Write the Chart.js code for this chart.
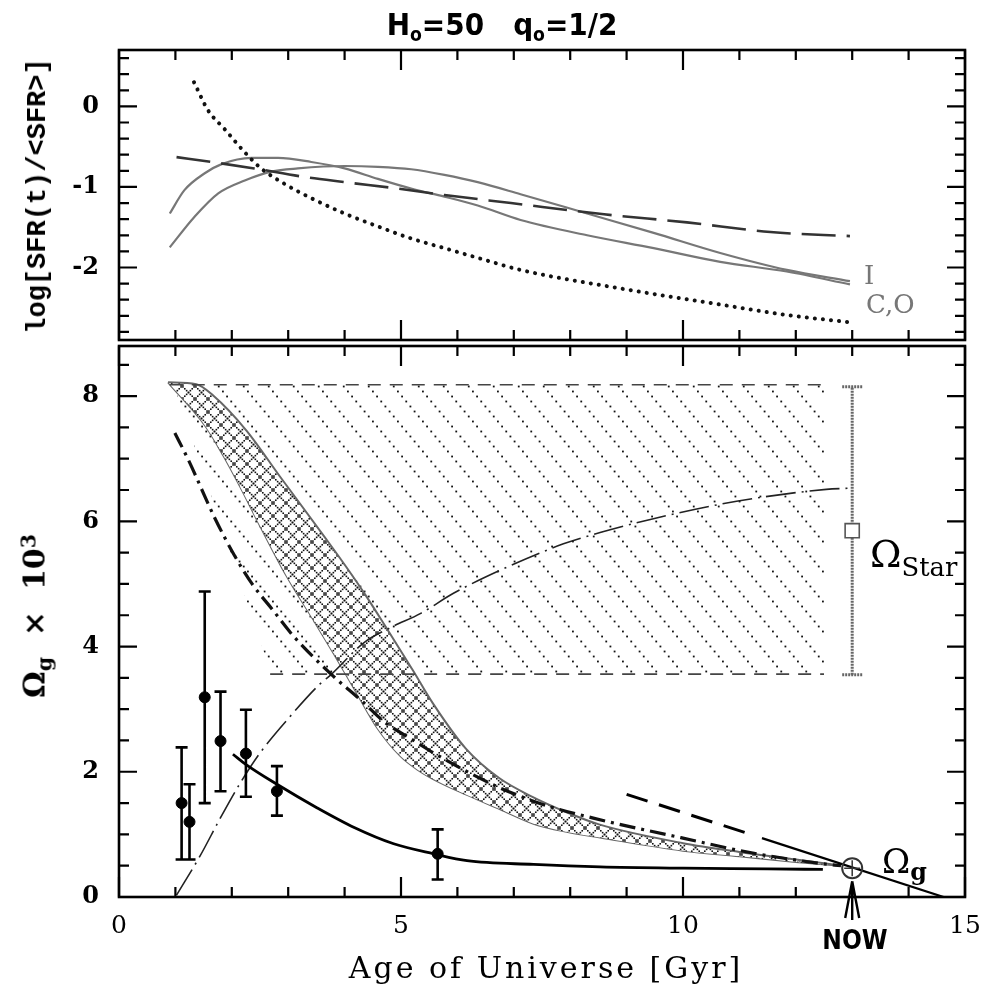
<!DOCTYPE html>
<html>
<head>
<meta charset="utf-8">
<title>Omega_g vs age of the universe</title>
<script src="https://cdn.jsdelivr.net/npm/chart.js@4.4.1/dist/chart.umd.min.js"></script>
<style>
  html, body { margin: 0; padding: 0; background: #fff; }
  #wrap { position: relative; width: 984px; height: 990px; overflow: hidden; }
  canvas { position: absolute; left: 0; }
  #cTop { top: 0; width: 984px; height: 346px; }
  #cBot { top: 334px; width: 984px; height: 656px; }
  .t { position: absolute; white-space: nowrap; line-height: 1; color: #000; }
  .t sub, .t sup { vertical-align: baseline; position: relative; }
  .rot { transform: translate(-50%, -50%) rotate(-90deg); }
  #title { left: 502px; top: 6px; transform: translateX(-50%); font: bold 31px "Liberation Sans Narrow", "DejaVu Sans Condensed", sans-serif; }
  #title sub { font-size: 62%; top: 0.3em; }
  #yTop { left: 38px; top: 196px; font: bold 27px "Liberation Mono", monospace; }
  #yBot { left: 34px; top: 616px; font: bold 30px "DejaVu Serif", serif; }
  #yBot sub { font-size: 68%; top: 0.35em; }
  #yBot sup { font-size: 68%; top: -0.45em; }
  #xTitle { left: 546px; top: 950px; transform: translateX(-50%); font: 30px "DejaVu Serif", serif; letter-spacing: 3px; }
  #lblI { left: 864px; top: 260px; font: 26px "DejaVu Serif", serif; color: #777; }
  #lblCO { left: 866px; top: 289px; font: 26px "DejaVu Serif", serif; color: #777; }
  #lblStar { left: 870px; top: 532px; font: 38px "DejaVu Serif", serif; }
  #lblStar sub { font-size: 68%; top: 0.34em; }
  #lblG { left: 882px; top: 841px; font: 34px "DejaVu Serif", serif; }
  #lblG sub { font-size: 70%; top: 0.3em; font-weight: bold; }
  #lblNow { left: 855px; top: 925px; transform: translateX(-50%); font: bold 26px "Liberation Sans Narrow", "DejaVu Sans Condensed", sans-serif; }
</style>
</head>
<body>
<div id="wrap">
  <canvas id="cTop" width="984" height="346"></canvas>
  <canvas id="cBot" width="984" height="656"></canvas>
  <div class="t" id="title">H<sub>o</sub>=50&nbsp;&nbsp;&nbsp;q<sub>o</sub>=1/2</div>
  <div class="t rot" id="yTop">log[SFR(t)/&lt;SFR&gt;]</div>
  <div class="t rot" id="yBot">Ω<sub>g</sub>&nbsp;&nbsp;×&nbsp;&nbsp;10<sup>3</sup></div>
  <div class="t" id="xTitle">Age of Universe [Gyr]</div>
  <div class="t" id="lblI">I</div>
  <div class="t" id="lblCO">C,O</div>
  <div class="t" id="lblStar">Ω<sub>Star</sub></div>
  <div class="t" id="lblG">Ω<sub>g</sub></div>
  <div class="t" id="lblNow">NOW</div>
</div>
<script>
// tick labels
const xTicks = [0, 5, 10, 15];
const yTopTicks = [-2, -1, 0];
const yBotTicks = [0, 2, 4, 6, 8];

// upper panel: log[SFR(t)/<SFR>] against age (Gyr)
const sfrDotX = [1.33, 1.58, 1.87, 2.23, 2.52, 2.93, 3.41, 4.0, 4.59, 5.18, 5.77, 6.36, 7.12, 8.89, 10.66, 11.84, 12.96];
const sfrDotY = [0.30, -0.05, -0.28, -0.57, -0.77, -0.96, -1.14, -1.33, -1.49, -1.64, -1.76, -1.88, -2.03, -2.26, -2.46, -2.59, -2.68];
const sfrDashX = [1.02, 1.64, 2.40, 3.23, 4.0, 4.94, 5.77, 6.95, 8.60, 10.07, 11.55, 12.96];
const sfrDashY = [-0.63, -0.69, -0.77, -0.87, -0.94, -1.02, -1.10, -1.20, -1.34, -1.44, -1.56, -1.61];
const sfrIX = [0.90, 1.16, 1.52, 1.81, 2.35, 2.82, 3.41, 4.0, 4.59, 5.18, 5.77, 6.36, 7.12, 8.30, 9.48, 10.66, 11.84, 12.96];
const sfrIY = [-1.33, -1.04, -0.83, -0.72, -0.64, -0.64, -0.69, -0.77, -0.90, -1.02, -1.12, -1.23, -1.41, -1.60, -1.76, -1.93, -2.05, -2.21];
const sfrCOX = [0.90, 1.34, 1.76, 2.23, 2.70, 3.17, 4.0, 4.59, 5.18, 5.77, 6.36, 7.12, 8.30, 9.48, 10.66, 11.84, 12.96];
const sfrCOY = [-1.75, -1.37, -1.08, -0.92, -0.81, -0.77, -0.74, -0.75, -0.78, -0.85, -0.94, -1.09, -1.33, -1.57, -1.82, -2.03, -2.17];

// lower panel: Omega x 10^3 against age (Gyr)
// allowed range of Omega_star (hatched)
const hatchX = [0.97, 12.5, 12.5, 2.70, 0.97];
const hatchY = [8.18, 8.18, 3.56, 3.56, 8.18];
const limTopX = [0.9, 12.5];
const limTopY = [8.18, 8.18];
const limBotX = [2.68, 12.5];
const limBotY = [3.56, 3.56];
// model band (cross-hatched)
const bandUpX = [0.87, 1.37, 1.67, 2.26, 2.85, 3.67, 4.03, 4.38, 4.74, 5.21, 5.56, 6.15, 6.74, 7.33, 7.92, 8.51, 10.0, 11.0, 12.0, 12.8];
const bandUpY = [8.22, 8.19, 8.01, 7.45, 6.72, 5.72, 5.27, 4.81, 4.30, 3.62, 3.10, 2.37, 1.90, 1.60, 1.36, 1.16, 0.86, 0.72, 0.60, 0.50];
const bandLoX = [0.87, 1.55, 1.85, 2.15, 2.50, 2.97, 3.50, 3.82, 4.22, 4.58, 4.99, 5.30, 5.58, 6.17, 6.76, 7.35, 7.94, 8.53, 10.0, 11.0, 12.0, 12.8];
const bandLoY = [8.22, 7.50, 7.05, 6.55, 5.93, 5.13, 4.35, 3.87, 3.25, 2.70, 2.25, 2.03, 1.88, 1.63, 1.40, 1.17, 1.04, 0.95, 0.74, 0.65, 0.56, 0.50];
// heavy dash-dot model
const ddX = [0.99, 1.22, 1.70, 2.05, 2.36, 2.73, 3.09, 3.76, 4.33, 4.70, 5.17, 5.58, 6.05, 6.76, 7.35, 7.65, 8.41, 8.83, 10.0, 11.19, 12.48, 12.8];
const ddY = [7.41, 7.00, 6.05, 5.45, 5.00, 4.58, 4.17, 3.56, 3.11, 2.80, 2.53, 2.30, 2.06, 1.74, 1.53, 1.44, 1.26, 1.17, 0.94, 0.71, 0.53, 0.50];
// stars built up (thin long-dash-dot)
const grX = [1.02, 1.44, 1.79, 2.15, 2.50, 3.03, 3.56, 3.77, 4.34, 4.81, 5.35, 5.93, 6.76, 7.88, 8.53, 9.42, 10.95, 12.54, 12.98];
const grY = [0.03, 0.66, 1.25, 1.82, 2.30, 2.88, 3.40, 3.56, 4.06, 4.30, 4.53, 4.85, 5.22, 5.64, 5.82, 6.03, 6.32, 6.51, 6.53];
// fit to the absorber data (solid)
const fitX = [2.02, 2.26, 2.80, 3.50, 4.17, 4.87, 5.58, 6.17, 7.35, 8.53, 10.0, 11.5, 12.48];
const fitY = [2.28, 2.11, 1.80, 1.43, 1.11, 0.85, 0.69, 0.58, 0.52, 0.48, 0.46, 0.45, 0.44];
// local Omega_g trend: dashed then solid
const extX = [9.0, 11.2];
const extY = [1.64, 1.00];
const omgX = [11.4, 14.62];
const omgY = [0.94, 0.0];
// observations with error bars
const obsX = [1.11, 1.25, 1.52, 1.80, 2.25, 2.80, 5.65];
const obsY = [1.50, 1.20, 3.19, 2.49, 2.29, 1.69, 0.69];
const obsLo = [0.60, 0.60, 1.50, 1.69, 1.60, 1.30, 0.28];
const obsHi = [2.39, 1.80, 4.88, 3.28, 2.99, 2.09, 1.08];
// Omega_star today
const starX = [13.0];
const starY = [5.85];
const starLo = [3.55];
const starHi = [8.15];
// Omega_g today
const nowX = [13.0];
const nowY = [0.46];

function pts(xs, ys) {
  return xs.map((x, i) => ({ x: x, y: ys[i] }));
}

// fill patterns
function hatchTile() {
  const w = 25, h = 30, n = 6;
  const c = document.createElement('canvas');
  c.width = w; c.height = h;
  const g = c.getContext('2d');
  g.fillStyle = '#111';
  for (let i = 0; i < n; i++) {
    const t = (i + 0.5) / n;
    g.fillRect(t * w - 0.9, t * h - 0.9, 1.8, 1.8);
  }
  return c;
}
function crossTile() {
  const s = 13, n = 7;
  const c = document.createElement('canvas');
  c.width = s; c.height = s;
  const g = c.getContext('2d');
  g.fillStyle = '#fff';
  g.fillRect(0, 0, s, s);
  g.fillStyle = '#111';
  for (let i = 0; i < n; i++) {
    const t = (i + 0.5) / n * s;
    g.fillRect(t - 0.8, t - 0.8, 1.6, 1.6);
    g.fillRect(t - 0.8, s - t - 0.8, 1.6, 1.6);
  }
  return c;
}

// inward ticks and box
function ticksAlong(scale, minor, major, fn) {
  const k0 = Math.ceil(scale.min / minor - 1e-6);
  const k1 = Math.floor(scale.max / minor + 1e-6);
  const every = Math.round(major / minor);
  for (let k = k0; k <= k1; k++) fn(scale.getPixelForValue(k * minor), k % every === 0);
}
const frame = {
  id: 'frame',
  afterDraw(chart, args, o) {
    const { ctx, chartArea: a } = chart;
    const x = chart.scales.x, y = chart.scales.y;
    ctx.save();
    ctx.strokeStyle = '#000';
    ctx.lineWidth = 2.2;
    ctx.beginPath();
    ticksAlong(x, o.xMinor, o.xMajor, (p, major) => {
      const L = major ? 20 : 10;
      ctx.moveTo(p, a.bottom); ctx.lineTo(p, a.bottom - L);
      ctx.moveTo(p, a.top); ctx.lineTo(p, a.top + L);
    });
    ticksAlong(y, o.yMinor, o.yMajor, (p, major) => {
      const L = major ? 18 : 10;
      ctx.moveTo(a.left, p); ctx.lineTo(a.left + L, p);
      ctx.moveTo(a.right, p); ctx.lineTo(a.right - L, p);
    });
    ctx.stroke();
    ctx.lineWidth = 2.6;
    ctx.strokeRect(a.left, a.top, a.right - a.left, a.bottom - a.top);
    ctx.restore();
  }
};

// error bars, Omega_star range and the NOW arrow
const marks = {
  id: 'marks',
  beforeDatasetsDraw(chart) {
    const { ctx } = chart;
    const x = chart.scales.x, y = chart.scales.y;
    ctx.save();
    ctx.strokeStyle = '#666';
    ctx.lineWidth = 3;
    ctx.setLineDash([2, 1]);
    starX.forEach((v, i) => {
      const px = x.getPixelForValue(v);
      const lo = y.getPixelForValue(starLo[i]);
      const hi = y.getPixelForValue(starHi[i]);
      ctx.beginPath();
      ctx.moveTo(px, lo); ctx.lineTo(px, hi);
      ctx.moveTo(px - 10, lo); ctx.lineTo(px + 10, lo);
      ctx.moveTo(px - 10, hi); ctx.lineTo(px + 10, hi);
      ctx.stroke();
    });
    ctx.restore();
  },
  afterDatasetsDraw(chart) {
    const { ctx, chartArea: a } = chart;
    const x = chart.scales.x, y = chart.scales.y;
    ctx.save();
    ctx.strokeStyle = '#000';
    ctx.lineWidth = 2.6;
    ctx.beginPath();
    obsX.forEach((v, i) => {
      const px = x.getPixelForValue(v);
      const lo = y.getPixelForValue(obsLo[i]);
      const hi = y.getPixelForValue(obsHi[i]);
      ctx.moveTo(px, lo); ctx.lineTo(px, hi);
      ctx.moveTo(px - 6, lo); ctx.lineTo(px + 6, lo);
      ctx.moveTo(px - 6, hi); ctx.lineTo(px + 6, hi);
    });
    ctx.stroke();
    // arrow pointing at today's value
    const px = x.getPixelForValue(nowX[0]);
    const tip = y.getPixelForValue(nowY[0]) + 13;
    const base = a.bottom + 23;
    ctx.lineWidth = 2.4;
    ctx.beginPath();
    ctx.moveTo(px, tip); ctx.lineTo(px, base);
    ctx.moveTo(px, tip); ctx.lineTo(px - 7, base - 2);
    ctx.moveTo(px, tip); ctx.lineTo(px + 7, base - 2);
    ctx.stroke();
    ctx.restore();
  }
};

Chart.defaults.font.family = '"DejaVu Serif", serif';
Chart.defaults.color = '#000';

function lineSet(xs, ys, style) {
  return Object.assign({
    data: pts(xs, ys),
    pointRadius: 0,
    fill: false,
    cubicInterpolationMode: 'monotone'
  }, style);
}
// keep the label padding from shrinking the plot box
function noPad(s) {
  s.paddingTop = 0; s.paddingBottom = 0; s.paddingLeft = 0; s.paddingRight = 0;
}

// ---- upper panel ----
new Chart(document.getElementById('cTop'), {
  type: 'line',
  data: {
    datasets: [
      lineSet(sfrDotX, sfrDotY, { borderColor: '#111', borderWidth: 4, borderDash: [0.1, 8], borderCapStyle: 'round' }),
      lineSet(sfrDashX, sfrDashY, { borderColor: '#333', borderWidth: 2.6, borderDash: [34, 11] }),
      lineSet(sfrIX, sfrIY, { borderColor: '#777', borderWidth: 2.2 }),
      lineSet(sfrCOX, sfrCOY, { borderColor: '#777', borderWidth: 2.2 })
    ]
  },
  options: {
    responsive: false,
    animation: false,
    layout: { padding: { top: 50, right: 19, bottom: 6, left: 0 } },
    plugins: {
      legend: { display: false },
      tooltip: { enabled: false },
      frame: { xMinor: 1, xMajor: 5, yMinor: 0.2, yMajor: 1 }
    },
    scales: {
      x: { type: 'linear', min: 0, max: 15, display: false },
      y: {
        min: -2.9, max: 0.7,
        grid: { display: false },
        border: { display: false },
        afterBuildTicks: s => { s.ticks = yTopTicks.map(v => ({ value: v })); },
        afterFit: s => { s.width = 119; noPad(s); },
        ticks: { font: { size: 24, weight: 'bold' }, padding: 12 }
      }
    }
  },
  plugins: [frame]
});

// ---- lower panel ----
const botCtx = document.getElementById('cBot').getContext('2d');
const hatchPat = botCtx.createPattern(hatchTile(), 'repeat');
const crossPat = botCtx.createPattern(crossTile(), 'repeat');

new Chart(document.getElementById('cBot'), {
  type: 'line',
  data: {
    datasets: [
      { data: pts(obsX, obsY), showLine: false, pointRadius: 5.5, pointBackgroundColor: '#000', pointBorderColor: '#000', order: 1 },
      { data: pts(nowX, nowY), showLine: false, pointStyle: 'cross', pointRadius: 8, pointBorderColor: '#333', pointBorderWidth: 1.5, order: 2 },
      { data: pts(nowX, nowY), showLine: false, pointStyle: 'circle', pointRadius: 10, pointBackgroundColor: 'rgba(255,255,255,0)', pointBorderColor: '#333', pointBorderWidth: 2, order: 3 },
      { data: pts(starX, starY), showLine: false, pointStyle: 'rect', pointRadius: 10, pointBackgroundColor: '#fff', pointBorderColor: '#555', pointBorderWidth: 1.6, order: 4 },
      lineSet(extX, extY, { borderColor: '#000', borderWidth: 3, borderDash: [22, 12], order: 10 }),
      lineSet(omgX, omgY, { borderColor: '#000', borderWidth: 2.2, order: 10 }),
      lineSet(fitX, fitY, { borderColor: '#000', borderWidth: 2.8, order: 11 }),
      lineSet(ddX, ddY, { borderColor: '#111', borderWidth: 3.2, borderDash: [16, 6, 3, 6], order: 12 }),
      lineSet(grX, grY, { borderColor: '#222', borderWidth: 1.6, borderDash: [30, 6, 2, 6], order: 13 }),
      lineSet(limTopX, limTopY, { borderColor: '#444', borderWidth: 1.6, borderDash: [13, 9], order: 14 }),
      lineSet(limBotX, limBotY, { borderColor: '#444', borderWidth: 1.6, borderDash: [13, 9], order: 14 }),
      // model band: upper edge filled down to the lower edge
      lineSet(bandUpX, bandUpY, { fill: '+1', backgroundColor: crossPat, borderColor: '#666', borderWidth: 2, order: 19 }),
      lineSet(bandLoX, bandLoY, { borderColor: '#666', borderWidth: 2, order: 19 }),
      { data: pts(hatchX, hatchY), fill: 'shape', backgroundColor: hatchPat, borderColor: 'rgba(0,0,0,0)', borderWidth: 1, pointRadius: 0, tension: 0, order: 20 }
    ]
  },
  options: {
    responsive: false,
    animation: false,
    layout: { padding: { top: 6, right: 19, bottom: 0, left: 0 } },
    plugins: {
      legend: { display: false },
      tooltip: { enabled: false },
      frame: { xMinor: 1, xMajor: 5, yMinor: 0.5, yMajor: 2 }
    },
    scales: {
      x: {
        type: 'linear', min: 0, max: 15,
        grid: { display: false },
        border: { display: false },
        afterBuildTicks: s => { s.ticks = xTicks.map(v => ({ value: v })); },
        afterFit: s => { s.height = 93; noPad(s); },
        ticks: { font: { size: 25 }, padding: 6, maxRotation: 0, autoSkip: false }
      },
      y: {
        min: 0, max: 8.8,
        grid: { display: false },
        border: { display: false },
        afterBuildTicks: s => { s.ticks = yBotTicks.map(v => ({ value: v })); },
        afterFit: s => { s.width = 119; noPad(s); },
        ticks: { font: { size: 24, weight: 'bold' }, padding: 12 }
      }
    }
  },
  plugins: [frame, marks]
});
</script>
</body>
</html>
